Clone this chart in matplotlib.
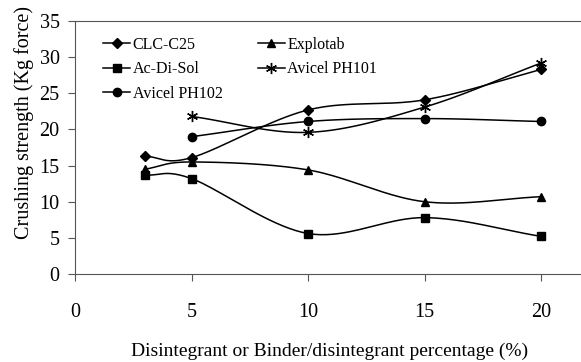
import matplotlib.pyplot as plt
import numpy as np

plt.rcParams['font.family'] = ['Liberation Serif', 'DejaVu Serif']

x_all = [3, 5, 10, 15, 20]
x_avicel = [5, 10, 15, 20]
clc_c25 = [16.3, 16.1, 22.7, 24.1, 28.3]
explotab = [14.5, 15.5, 14.4, 10.0, 10.7]
ac_di_sol = [13.7, 13.2, 5.6, 7.8, 5.2]
avicel_101 = [21.8, 19.6, 23.1, 29.2]
avicel_102 = [19.0, 21.1, 21.5, 21.1]


def smooth(xs, ys, n=40):
    # Excel-style smoothed line (Catmull-Rom through the points)
    xs = np.asarray(xs, float)
    ys = np.asarray(ys, float)
    px = np.concatenate([[2 * xs[0] - xs[1]], xs, [2 * xs[-1] - xs[-2]]])
    py = np.concatenate([[2 * ys[0] - ys[1]], ys, [2 * ys[-1] - ys[-2]]])
    ox, oy = [], []
    t = np.linspace(0, 1, n)
    for i in range(1, len(px) - 2):
        for p, out in ((px, ox), (py, oy)):
            p0, p1, p2, p3 = p[i - 1], p[i], p[i + 1], p[i + 2]
            out.extend(0.5 * (2 * p1 + (-p0 + p2) * t
                              + (2 * p0 - 5 * p1 + 4 * p2 - p3) * t ** 2
                              + (-p0 + 3 * p1 - 3 * p2 + p3) * t ** 3))
    return ox, oy


fig = plt.figure(figsize=(5.81, 3.62), dpi=100)
ax = fig.add_axes([0.129, 0.243, 0.871, 0.699])

series = [
    ("CLC-C25", x_all, clc_c25, 'D', 5),
    ("Ac-Di-Sol", x_all, ac_di_sol, 's', 6),
    ("Avicel PH102", x_avicel, avicel_102, 'o', 6),
    ("Explotab", x_all, explotab, '^', 6),
    ("Avicel PH101", x_avicel, avicel_101, (6, 2, 0), 8),
]
for name, xs, ys, m, ms in series:
    sx, sy = smooth(xs, ys)
    ax.plot(sx, sy, color='black', lw=1.1)
    ax.plot(xs, ys, linestyle='none', marker=m, ms=ms, color='black', mew=1.0)
    ax.plot([], [], color='black', lw=1.1, marker=m, ms=ms, label=name)

ax.set_xlim(0, 21.7)
ax.set_ylim(0, 35)
ax.set_xticks([0, 5, 10, 15, 20])
ax.set_yticks(range(0, 36, 5))
ax.tick_params(labelsize=14.5, direction='out', length=5, width=0.8, color='#555555')
ax.tick_params(axis='x', pad=15.5)
ax.tick_params(axis='y', pad=6)
for s in ('left', 'bottom', 'top'):
    ax.spines[s].set_color('#555555')
    ax.spines[s].set_linewidth(0.8)
ax.spines['right'].set_visible(False)

ax.set_xlabel("Disintegrant or Binder/disintegrant percentage (%)", fontsize=14)
ax.xaxis.set_label_coords(0.504, -0.27)
ax.set_ylabel("Crushing strength (Kg force)", fontsize=14.5)
ax.yaxis.set_label_coords(-0.08, 0.60)

ax.legend(loc='upper left', bbox_to_anchor=(103 / 581, 1 - 37 / 362),
          bbox_transform=fig.transFigure, ncol=2, frameon=False,
          fontsize=11.5, handlelength=1.7, handletextpad=0.15, columnspacing=2.2,
          labelspacing=0.53, borderaxespad=0, borderpad=0)

plt.savefig("out.png", dpi=100)
